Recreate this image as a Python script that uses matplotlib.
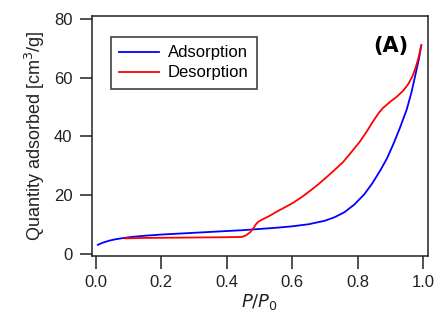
import matplotlib
matplotlib.use('Agg')
import matplotlib.pyplot as plt
import numpy as np

plt.rcParams['font.family'] = ['Liberation Sans', 'DejaVu Sans']

# adsorption branch (blue)
ads_p = [0.006, 0.02, 0.04, 0.06, 0.083, 0.11, 0.15, 0.2, 0.25, 0.3, 0.35, 0.4,
         0.45, 0.5, 0.55, 0.6, 0.65, 0.7, 0.73, 0.76, 0.79, 0.82, 0.845, 0.87,
         0.89, 0.91, 0.93, 0.95, 0.965, 0.978, 0.988, 0.995]
ads_q = [3.1, 3.8, 4.5, 5.0, 5.4, 5.8, 6.2, 6.6, 6.9, 7.2, 7.5, 7.8,
         8.1, 8.5, 8.9, 9.4, 10.1, 11.3, 12.5, 14.2, 16.8, 20.2, 24.0, 28.5,
         32.5, 37.5, 43.0, 49.0, 55.0, 61.5, 66.5, 71.0]

# desorption branch (red)
des_p = [0.089, 0.15, 0.2, 0.3, 0.4, 0.447, 0.46, 0.472, 0.482, 0.49, 0.497, 0.51,
         0.53, 0.553, 0.58, 0.603, 0.63, 0.654, 0.68, 0.706, 0.73, 0.756, 0.78,
         0.807, 0.83, 0.848, 0.865, 0.878, 0.9, 0.92, 0.94, 0.955, 0.968, 0.978,
         0.987, 0.995]
des_q = [5.3, 5.45, 5.5, 5.6, 5.7, 5.8, 6.4, 7.4, 8.8, 10.2, 11.0, 11.8,
         12.9, 14.4, 16.0, 17.4, 19.4, 21.4, 23.7, 26.2, 28.6, 31.3, 34.5,
         38.2, 42.0, 45.2, 48.0, 49.7, 51.8, 53.5, 55.6, 57.8, 60.5, 63.5,
         67.0, 71.0]

fig = plt.figure(figsize=(4.37, 3.26), dpi=100)
ax = fig.add_axes([0.2105, 0.2147, 0.979 - 0.2105, 0.951 - 0.2147])

ax.plot(ads_p, ads_q, color='#0000ff', lw=1.3, label='Adsorption')
ax.plot(des_p, des_q, color='#ff0000', lw=1.3, label='Desorption')

ax.set_xlim(-0.012, 1.015)
ax.set_ylim(-0.7, 81)
ax.set_xticks([0.0, 0.2, 0.4, 0.6, 0.8, 1.0])
ax.set_yticks([0, 20, 40, 60, 80])
ax.xaxis.set_major_formatter('{x:.1f}')
ax.tick_params(direction='out', length=9, width=1.1, labelsize=12, colors='#222222', pad=5)
for s in ax.spines.values():
    s.set_linewidth(1.1)
    s.set_color('#222222')

ax.set_ylabel('Quantity adsorbed [cm$^3$/g]', fontsize=13, color='#222222', labelpad=5)
ax.set_xlabel('$P/P_0$', fontsize=13, color='#222222', labelpad=1)

leg = ax.legend(loc='upper left', bbox_to_anchor=(0.057, 0.912), borderaxespad=0,
                fontsize=12, frameon=True, fancybox=False, edgecolor='#111111',
                handlelength=2.4, handletextpad=0.5, borderpad=0.5, labelspacing=0.3)
leg.get_frame().set_linewidth(1.2)

ax.text(0.943, 0.875, '(A)', transform=ax.transAxes, ha='right', va='center',
        fontsize=15, fontweight='bold', family='DejaVu Sans')

plt.savefig('out.png', dpi=100)
